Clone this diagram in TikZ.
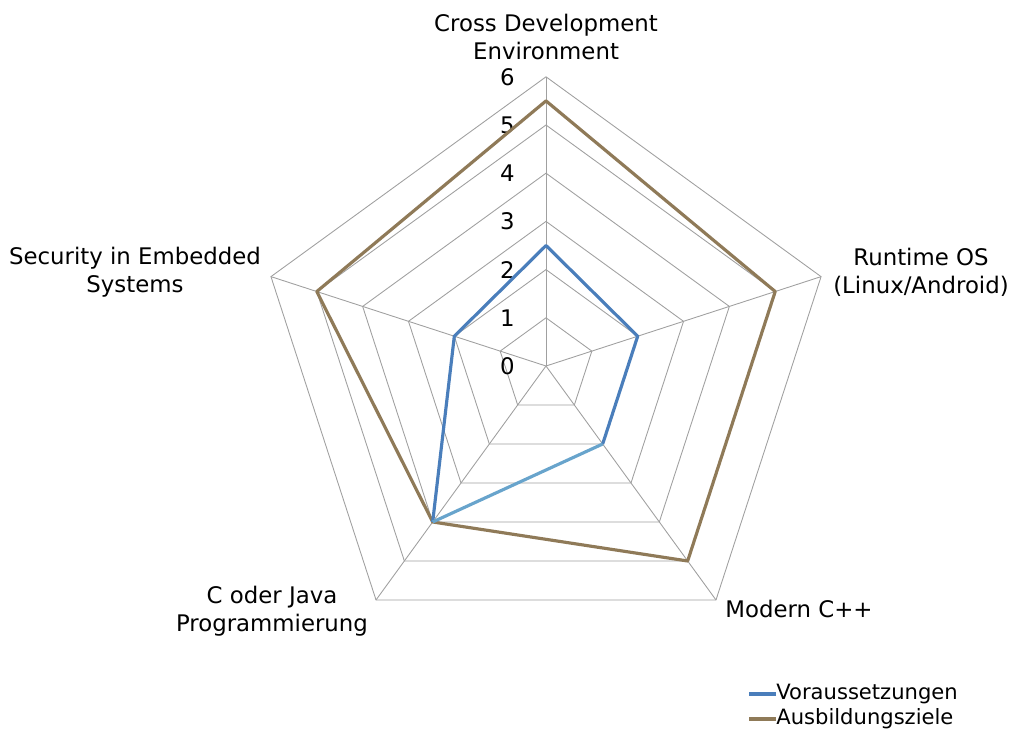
\documentclass[tikz,border=0pt]{standalone}
\usepackage{fontspec}
\newfontfamily\chartfont{DejaVu Sans}
\usepackage{tikz}
\usetikzlibrary{calc,positioning}

\definecolor{gridgray}{RGB}{160,160,160}
\definecolor{reqblue}{RGB}{74,126,187}
\definecolor{reqlight}{RGB}{104,164,204}
\definecolor{goalbrown}{RGB}{143,122,88}

\begin{document}
\begin{tikzpicture}[
  x=0.02cm, y=0.02cm,
  web/.style={draw=gridgray, line width=0.5pt},
  serie/.style={line width=1.8pt, line join=round},
  axislabel/.style={font=\chartfont\fontsize{13}{16}\selectfont,
    align=center, inner sep=0pt},
  ticklabel/.style={font=\chartfont\fontsize{13}{15}\selectfont,
    anchor=east, inner sep=0pt},
  legtext/.style={font=\chartfont\fontsize{12}{14}\selectfont,
    anchor=west, inner sep=0pt},
]
\useasboundingbox (0,0) rectangle (1020,735);

% spider web, 6 rings and 5 spokes
\begin{scope}[shift={(546,369)}]
  \coordinate (ctr) at (0,0);
  \foreach \l in {1,...,6}{
    \draw[web] (90:\l*48.2) -- (18:\l*48.2) -- (-54:\l*48.2)
      -- (-126:\l*48.2) -- (162:\l*48.2) -- cycle;
  }
  \foreach \a in {90,18,-54,-126,162}
    \draw[web] (ctr) -- (\a:6*48.2);
  % scale 0..6
  \foreach \l in {0,...,6}
    \node[ticklabel] (t\l) at (-31,\l*48.2) {\l};

  % Voraussetzungen
  \foreach \a/\v [count=\i] in {90/2.5,18/2,-54/2,-126/4,162/2}
    \coordinate (r\i) at (\a:\v*48.2);
  % Ausbildungsziele
  \foreach \a/\v [count=\i] in {90/5.5,18/5,-54/5,-126/4,162/5}
    \coordinate (g\i) at (\a:\v*48.2);
\end{scope}

\draw[serie,goalbrown] (g1) -- (g2) -- (g3) -- (g4) -- (g5) -- cycle;
\draw[serie,reqblue] (r4) -- (r5) -- (r1) -- (r2) -- (r3);
\draw[serie,reqlight] (r3) -- (r4);

% axis names
\node[axislabel] (lcross) at (546,698) {Cross Development\\Environment};
\node[axislabel] (lrun) at (921,463) {Runtime OS\\(Linux/Android)};
\node[axislabel] (lcpp) at (799,126) {Modern C++};
\node[axislabel] (ljava) at (272,124) {C oder Java\\Programmierung};
\node[axislabel] (lsec) at (135,463) {Security in Embedded\\Systems};

% legend
\node[legtext] (leg1) at (776,41) {Voraussetzungen};
\node[legtext] (leg2) at (776,16) {Ausbildungsziele};
\draw[reqblue,line width=1.8pt] (leg1.west) -- ++(-27,0);
\draw[goalbrown,line width=1.8pt] (leg2.west) -- ++(-27,0);
\end{tikzpicture}
\end{document}
